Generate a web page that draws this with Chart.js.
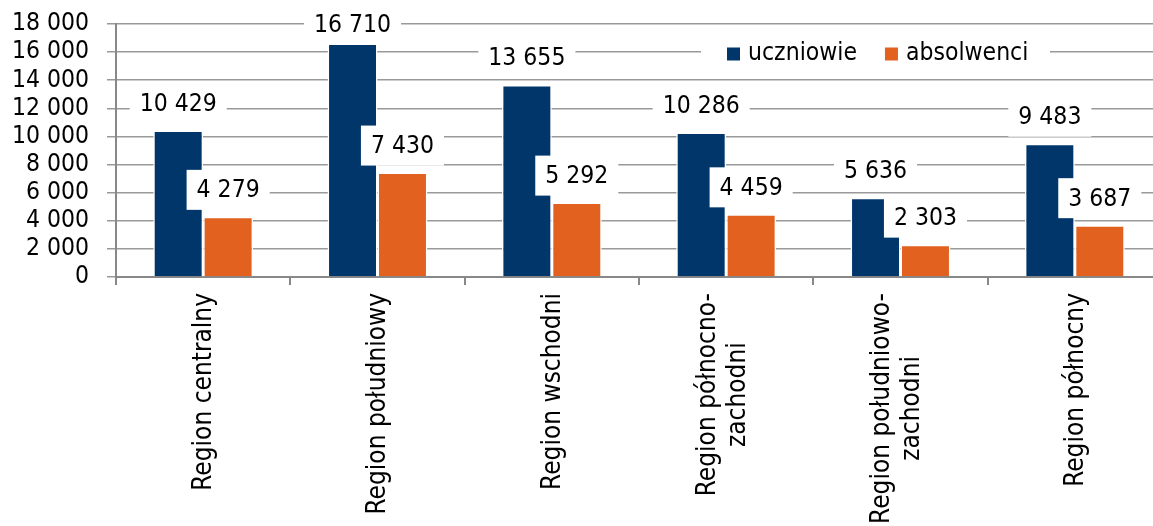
<!DOCTYPE html>
<html>
<head>
<meta charset="utf-8">
<script src="https://cdn.jsdelivr.net/npm/chart.js@4.4.1/dist/chart.umd.min.js"></script>
<style>
html,body{margin:0;padding:0;overflow:hidden;background:#fff;}
#wrap{width:1170px;height:526px;}
</style>
</head>
<body>
<div id="wrap"><canvas id="c" width="1170" height="526"></canvas></div>
<script>
const categories = [
  ['Region centralny'],
  ['Region południowy'],
  ['Region wschodni'],
  ['Region północno-', 'zachodni'],
  ['Region południowo-', 'zachodni'],
  ['Region północny']
];
const seriesNames = ['uczniowie', 'absolwenci'];
const uczniowie = [10429, 16710, 13655, 10286, 5636, 9483];
const absolwenci = [4279, 7430, 5292, 4459, 2303, 3687];
const yTickValues = [0, 2000, 4000, 6000, 8000, 10000, 12000, 14000, 16000, 18000];
const colors = ['#01366B', '#E2611F'];

const FONT = "'DejaVu Sans Condensed', 'Liberation Sans', sans-serif";
const fmt = v => String(v).replace(/\B(?=(\d{3})+(?!\d))/g, ' ');

const valueLabels = {
  id: 'valueLabels',
  afterDatasetsDraw(chart) {
    const ctx = chart.ctx;
    const top = chart.chartArea.top;
    ctx.save();
    ctx.font = '24.5px ' + FONT;
    ctx.textAlign = 'center';
    ctx.textBaseline = 'middle';
    chart.data.datasets.forEach((ds, di) => {
      const meta = chart.getDatasetMeta(di);
      meta.data.forEach((el, i) => {
        const txt = fmt(ds.data[i]);
        const w = ctx.measureText(txt).width + 20;
        const h = 40;
        const cy = Math.max(el.y - 27, top + 1);
        ctx.fillStyle = '#ffffff';
        ctx.fillRect(el.x - w / 2, cy - h / 2, w, h);
        ctx.fillStyle = '#000000';
        ctx.fillText(txt, el.x, cy + 1);
      });
    });
    ctx.restore();
  }
};

const xLabels = {
  id: 'xLabels',
  afterDraw(chart) {
    const ctx = chart.ctx;
    const xs = chart.scales.x;
    ctx.save();
    ctx.font = '26px ' + FONT;
    ctx.fillStyle = '#000000';
    ctx.textBaseline = 'middle';
    ctx.textAlign = 'center';
    const lh = 30;
    chart.data.labels.forEach((lab, i) => {
      const lines = Array.isArray(lab) ? lab : [lab];
      const x = xs.getPixelForValue(i);
      const W = Math.max(...lines.map(l => ctx.measureText(l).width));
      ctx.save();
      ctx.translate(x + (lines.length > 1 ? -3 : 1), xs.bottom + 8);
      ctx.rotate(-Math.PI / 2);
      lines.forEach((l, j) => {
        ctx.fillText(l, -W / 2, (j - (lines.length - 1) / 2) * lh);
      });
      ctx.restore();
    });
    ctx.restore();
  }
};

const innerLegend = {
  id: 'innerLegend',
  afterDraw(chart) {
    const ctx = chart.ctx;
    ctx.save();
    ctx.font = '24.5px ' + FONT;
    ctx.textBaseline = 'middle';
    ctx.textAlign = 'left';
    ctx.fillStyle = '#ffffff';
    ctx.fillRect(701, 35, 349, 36);
    let x = 727;
    const cy = 54;
    chart.data.datasets.forEach((ds) => {
      ctx.fillStyle = ds.backgroundColor;
      ctx.fillRect(x, cy - 6.5, 13, 13);
      ctx.fillStyle = '#000000';
      const tx = x + 21;
      ctx.fillText(ds.label, tx, cy);
      x = tx + ctx.measureText(ds.label).width + 28;
    });
    ctx.restore();
  }
};

Chart.defaults.font.family = FONT;

new Chart(document.getElementById('c'), {
  type: 'bar',
  data: {
    labels: categories,
    datasets: [
      { label: seriesNames[0], data: uczniowie, backgroundColor: colors[0], borderColor: '#ffffff', borderWidth: 1.5 },
      { label: seriesNames[1], data: absolwenci, backgroundColor: colors[1], borderColor: '#ffffff', borderWidth: 1.5 }
    ]
  },
  options: {
    responsive: false,
    animation: false,
    events: [],
    datasets: { bar: { categoryPercentage: 0.573, barPercentage: 1.0 } },
    layout: { padding: { left: 0, right: 8, top: 24, bottom: 241 } },
    plugins: { legend: { display: false }, tooltip: { enabled: false } },
    scales: {
      x: {
        grid: { display: true, drawOnChartArea: false, drawTicks: true, tickLength: 8, color: '#888888', lineWidth: 2, offset: true },
        border: { display: true, color: '#888888', width: 2 },
        ticks: { display: false }
      },
      y: {
        min: 0,
        max: 18000,
        afterFit(scale) { scale.width = 116; scale.paddingTop = 10; scale.paddingBottom = 10; },
        afterBuildTicks(scale) { scale.ticks = yTickValues.map(v => ({ value: v })); },
        grid: { color: '#999999', lineWidth: 1.5, drawTicks: true, tickLength: 9 },
        border: { display: true, color: '#888888', width: 2 },
        ticks: { autoSkip: false, padding: 18, color: '#000000', font: { size: 24.5, family: FONT }, callback: v => fmt(v) }
      }
    }
  },
  plugins: [valueLabels, xLabels, innerLegend]
});
</script>
</body>
</html>
